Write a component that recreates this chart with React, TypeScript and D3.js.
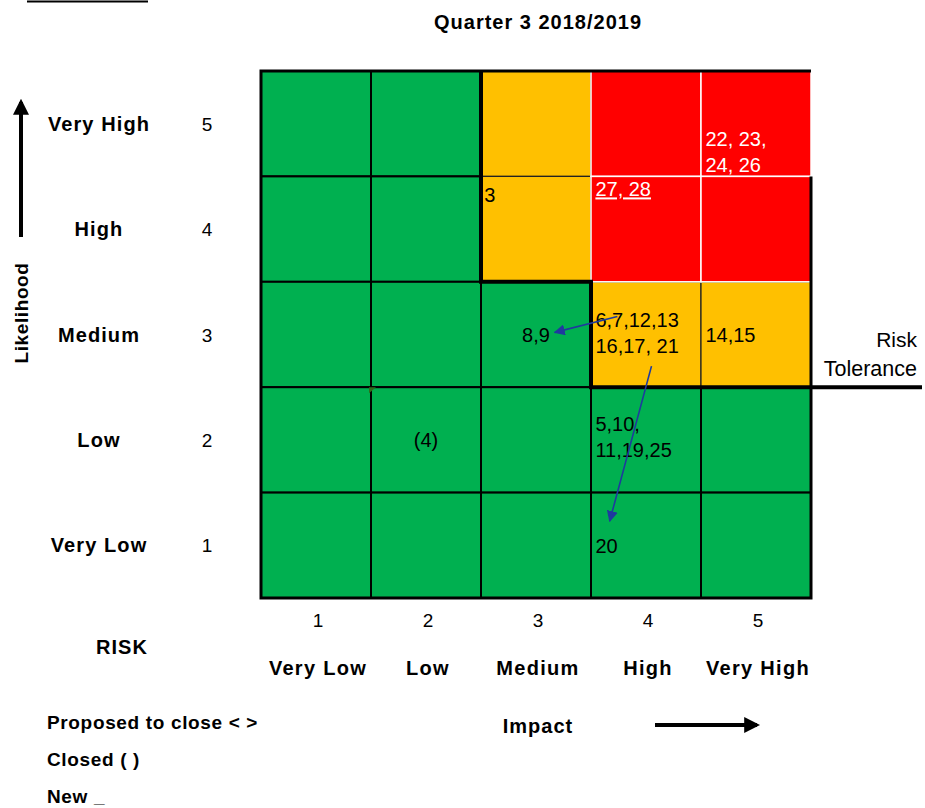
import React from "react";
import * as d3 from "d3";

const likelihoodLevels = [5, 4, 3, 2, 1];
const likelihoodLabels = ["Very High", "High", "Medium", "Low", "Very Low"];
const impactLevels = [1, 2, 3, 4, 5];
const impactLabels = ["Very Low", "Low", "Medium", "High", "Very High"];
// rating per cell: rows = likelihood 5..1, cols = impact 1..5 ; g=green a=amber r=red
const cellRatings = [
  ["g", "g", "a", "r", "r"],
  ["g", "g", "a", "r", "r"],
  ["g", "g", "g", "a", "a"],
  ["g", "g", "g", "g", "g"],
  ["g", "g", "g", "g", "g"],
];
// risk annotations: [likelihood, impact, lines, anchor, fx (fraction of cell), first-baseline offset fraction]
const riskNotes: [number, number, string[], string, number, number][] = [
  [5, 5, ["22, 23,", "24, 26"], "start", 0.04, 0.71],
  [4, 3, ["3"], "start", 0.03, 0.24],
  [4, 4, ["27, 28"], "start", 0.04, 0.19],
  [3, 3, ["8,9"], "middle", 0.5, 0.5],
  [3, 4, ["6,7,12,13", "16,17, 21"], "start", 0.04, 0.43],
  [3, 5, ["14,15"], "start", 0.04, 0.5],
  [2, 2, ["(4)"], "middle", 0.5, 0.5],
  [2, 4, ["5,10,", "11,19,25"], "start", 0.04, 0.42],
  [1, 4, ["20"], "start", 0.04, 0.57],
];
// movement arrows: from (likelihood, impact, fx, fy) to (likelihood, impact, fx, fy) in cell fractions
const movements: [number, number, number, number, number, number, number, number][] = [
  [3, 4, 0.24, 0.33, 3, 3, 0.67, 0.48],
  [3, 4, 0.55, 0.8, 1, 4, 0.17, 0.27],
];
const legendItems = ["Proposed to close < >", "Closed ( )", "New _"];

const COLORS: Record<string, string> = { g: "#00B050", a: "#FFC000", r: "#FF0000" };
const FONT = "'Liberation Sans', Arial, sans-serif";

export default function App() {
  const x = d3.scaleBand<number>().domain(impactLevels).range([261, 811]).padding(0);
  const y = d3.scaleBand<number>().domain(likelihoodLevels).range([71, 598]).padding(0);
  const bw = x.bandwidth();
  const bh = y.bandwidth();

  const cells: { l: number; i: number; r: string }[] = [];
  likelihoodLevels.forEach((l, ri) =>
    impactLevels.forEach((i, ci) => cells.push({ l, i, r: cellRatings[ri][ci] }))
  );
  const order = { g: 0, a: 1, r: 2 } as Record<string, number>;
  cells.sort((a, b) => order[a.r] - order[b.r]);

  const x0 = x(1)!, x3 = x(3)!, x4 = x(4)!, xEnd = x(5)! + bw;
  const yTop = y(5)!, y4 = y(4)!, y3 = y(3)!, y2 = y(2)!, yBot = y(1)! + bh;

  const tolerance = d3.line()([
    [x3, yTop],
    [x3, y3],
    [x4, y3],
    [x4, y2],
    [922, y2],
  ]);
  const outline = d3.line()([
    [xEnd, y4],
    [xEnd, yBot],
    [x0, yBot],
    [x0, yTop],
    [xEnd, yTop],
  ]);

  return (
    <svg width={925} height={808} style={{ display: "block", position: "absolute", left: 0, top: 0 }}>
      <defs>
        <marker id="bluehead" viewBox="0 0 10 10" refX="9" refY="5" markerWidth="7" markerHeight="7" orient="auto">
          <path d="M0,0 L10,5 L0,10 z" fill="#1F3A9E" />
        </marker>
        <marker id="blackhead" viewBox="0 0 10 10" refX="8" refY="5" markerWidth="4" markerHeight="4" orient="auto">
          <path d="M0,0 L10,5 L0,10 z" fill="#000" />
        </marker>
      </defs>
      <rect width={925} height={808} fill="#fff" />
      <line x1={27} x2={148} y1={1.5} y2={1.5} stroke="#000" strokeWidth={2} />
      <text x={538} y={29} textAnchor="middle" fontFamily={FONT} fontWeight="bold" fontSize={20} letterSpacing={1}>
        Quarter 3 2018/2019
      </text>

      {cells.map((c) => (
        <rect
          key={`${c.l}-${c.i}`}
          x={x(c.i)}
          y={y(c.l)}
          width={bw}
          height={bh}
          fill={COLORS[c.r]}
          stroke={c.r === "g" ? "#000" : c.r === "a" ? "#222" : "#fff"}
          strokeWidth={c.r === "g" ? 2 : c.r === "a" ? 1.2 : 1.5}
        />
      ))}
      <path d={`M${x(2)! - 2},${y2} l7,0 l-7,6 z`} fill="#2F6B1A" />

      <path d={outline!} fill="none" stroke="#000" strokeWidth={3} />
      <path d={tolerance!} fill="none" stroke="#000" strokeWidth={4} />

      {riskNotes.map(([l, i, lines, anchor, fx, fy], k) => {
        const cx = x(i)!, cy = y(l)!;
        const white = cellRatings[likelihoodLevels.indexOf(l)][impactLevels.indexOf(i)] === "r";
        const mid = anchor === "middle";
        const tx = cx + fx * bw;
        const ty0 = cy + fy * bh + (mid || (l === 3 && i === 5) ? 7 : 0);
        return (
          <g key={k}>
            {lines.map((s, j) => (
              <text
                key={j}
                x={tx}
                y={ty0 + j * 26}
                textAnchor={anchor}
                fontFamily={FONT}
                fontSize={20}
                fill={white ? "#fff" : "#000"}
                textDecoration={white && l === 4 ? "underline" : undefined}
              >
                {s}
              </text>
            ))}
          </g>
        );
      })}

      {movements.map(([l1, i1, fx1, fy1, l2, i2, fx2, fy2], k) => (
        <line
          key={k}
          x1={x(i1)! + fx1 * bw}
          y1={y(l1)! + fy1 * bh}
          x2={x(i2)! + fx2 * bw}
          y2={y(l2)! + fy2 * bh}
          stroke="#1F3A9E"
          strokeWidth={1.6}
          markerEnd="url(#bluehead)"
        />
      ))}

      <text x={917} y={347} textAnchor="end" fontFamily={FONT} fontSize={21}>Risk</text>
      <text x={917} y={376} textAnchor="end" fontFamily={FONT} fontSize={21.5}>Tolerance</text>

      {likelihoodLevels.map((l, k) => (
        <g key={l}>
          <text x={99} y={y(l)! + bh / 2 + 7} textAnchor="middle" fontFamily={FONT} fontWeight="bold" fontSize={20} letterSpacing={1.1}>
            {likelihoodLabels[k]}
          </text>
          <text x={207} y={y(l)! + bh / 2 + 7} textAnchor="middle" fontFamily={FONT} fontSize={19}>
            {l}
          </text>
        </g>
      ))}

      <line x1={21} x2={21} y1={237} y2={102} stroke="#000" strokeWidth={4} markerEnd="url(#blackhead)" />
      <text transform="translate(28,313) rotate(-90)" textAnchor="middle" fontFamily={FONT} fontWeight="bold" fontSize={19} letterSpacing={0.6}>
        Likelihood
      </text>

      {impactLevels.map((i, k) => (
        <g key={i}>
          <text x={x(i)! + bw / 2 + 2} y={627} textAnchor="middle" fontFamily={FONT} fontSize={19}>{i}</text>
          <text x={x(i)! + bw / 2 + 2} y={675} textAnchor="middle" fontFamily={FONT} fontWeight="bold" fontSize={20} letterSpacing={1.3}>
            {impactLabels[k]}
          </text>
        </g>
      ))}
      <text x={122} y={654} textAnchor="middle" fontFamily={FONT} fontWeight="bold" fontSize={20} letterSpacing={1}>RISK</text>

      {legendItems.map((s, k) => (
        <text key={k} x={47} y={729 + k * 37} fontFamily={FONT} fontWeight="bold" fontSize={19} letterSpacing={0.65}>
          {s}
        </text>
      ))}
      <text x={538} y={733} textAnchor="middle" fontFamily={FONT} fontWeight="bold" fontSize={20} letterSpacing={1}>Impact</text>
      <line x1={655} x2={757} y1={725} y2={725} stroke="#000" strokeWidth={4} markerEnd="url(#blackhead)" />
    </svg>
  );
}
